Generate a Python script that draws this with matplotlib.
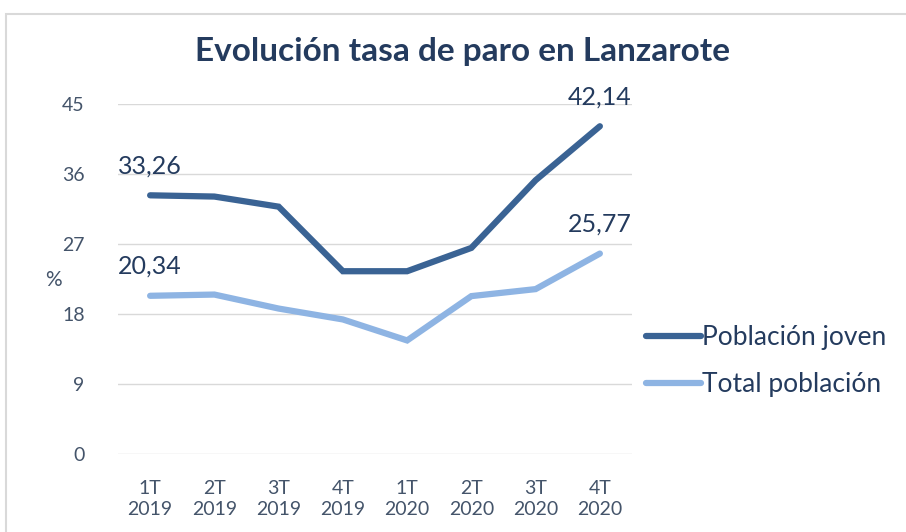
import matplotlib.pyplot as plt
from matplotlib.patches import Rectangle

# data
quarters = ['1T\n2019', '2T\n2019', '3T\n2019', '4T\n2019',
            '1T\n2020', '2T\n2020', '3T\n2020', '4T\n2020']
joven = [33.26, 33.1, 31.8, 23.5, 23.5, 26.5, 35.2, 42.14]
total = [20.34, 20.5, 18.7, 17.3, 14.6, 20.3, 21.2, 25.77]
yticks = [0, 9, 18, 27, 36, 45]

dark = '#3A6394'
light = '#8EB4E3'
txt = '#44546A'
title_col = '#243B5E'

plt.rcParams['font.family'] = ['Lato', 'DejaVu Sans']

fig = plt.figure(figsize=(9.06, 5.32), dpi=100)
fig.patches.append(Rectangle((6/906, -0.1), 1.2, 1 - 14/532 + 0.1, transform=fig.transFigure,
                             fill=False, edgecolor='#D9D9D9', lw=1.5))
ax = fig.add_axes([118/906, 1 - 454/532, (632 - 118)/906, (454 - 104)/532])

x = range(len(quarters))
ax.plot(x, joven, color=dark, lw=4.5, solid_capstyle='round', solid_joinstyle='miter',
        label='Población joven')
ax.plot(x, total, color=light, lw=4.5, solid_capstyle='round', solid_joinstyle='miter',
        label='Total población')

# data labels at first and last points
for serie in (joven, total):
    for i in (0, len(serie) - 1):
        ax.annotate(f'{serie[i]:.2f}'.replace('.', ','), (i, serie[i]),
                    xytext=(0, 13), textcoords='offset points', ha='center', va='bottom',
                    fontsize=18, color=title_col)

ax.set_xlim(-0.5, len(quarters) - 0.5)
ax.set_ylim(0, 45)
ax.set_yticks(yticks)
ax.set_xticks(list(x))
ax.set_xticklabels(quarters, linespacing=1.25)
ax.tick_params(length=0, labelsize=14, labelcolor=txt)
ax.tick_params(axis='x', pad=19)
ax.tick_params(axis='y', pad=24)
ax.grid(axis='y', color='#D9D9D9', lw=1)
ax.set_axisbelow(True)
for s in ax.spines.values():
    s.set_visible(False)

fig.text(53/906, 1 - 280/532, '%', fontsize=15, color=txt, ha='center', va='center')
fig.text(463/906, 1 - 52/532, 'Evolución tasa de paro en Lanzarote', fontsize=24,
         fontweight='bold', color=title_col, ha='center', va='center')

leg = fig.legend(loc='center left', bbox_to_anchor=(622/906, 1 - 361/532), frameon=False,
                 fontsize=19, handlelength=2.1, handletextpad=0.05, labelspacing=0.85,
                 labelcolor=title_col)
for h in leg.legend_handles:
    h.set_linewidth(4.5)

fig.savefig('out.png', dpi=100)
